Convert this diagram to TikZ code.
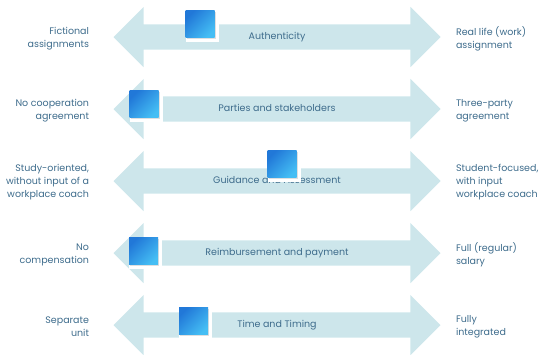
\documentclass[tikz,border=0pt]{standalone}
\usepackage{fontspec}
\setmainfont{Poppins}
\usetikzlibrary{shapes.arrows, shadows, positioning}
\definecolor{arrowfill}{HTML}{CDE6EB}
\definecolor{labeltext}{HTML}{3E6C8C}
\definecolor{notedark}{HTML}{2178D8}
\definecolor{notelight}{HTML}{45BEF4}

\begin{document}
\begin{tikzpicture}[x=1pt, y=-1pt, node distance=24pt, font=\fontsize{9.5}{13}\selectfont,
	span/.style={double arrow, fill=arrowfill, minimum height=327pt, minimum width=60pt, double arrow head extend=17.5pt, double arrow tip angle=90, text height=7pt, text depth=2pt, inner xsep=0pt, inner ysep=8pt, text=labeltext},
	pole/.style={inner sep=0pt, text=labeltext, yshift=-1.5pt},
	note/.style={minimum width=29pt, minimum height=27pt, inner sep=0pt, top color=notedark, bottom color=notelight, shading angle=45,
		general shadow={fill=white, shadow xshift=2pt, shadow yshift=-2pt, shadow scale=1.15},
		drop shadow={opacity=0.25, shadow xshift=1pt, shadow yshift=-1pt}}]
			\useasboundingbox (0,0) rectangle (543,354);
			
			\node[span] (a1) at (277,37) {Authenticity};
			\node[span] (a2) at (277,109) {Parties and stakeholders};
			\node[span] (a3) at (277,181) {Guidance and Assessment};
			\node[span] (a4) at (277,253) {Reimbursement and payment};
			\node[span] (a5) at (277,325) {Time and Timing};
			
			\node[pole, align=right] (l1) [left=of a1] {Fictional\\assignments};
			\node[pole, align=right] (l2) [left=of a2] {No cooperation\\agreement};
			\node[pole, align=right] (l3) [left=of a3] {Study-oriented,\\without input of a\\workplace coach};
			\node[pole, align=right] (l4) [left=of a4] {No\\compensation};
			\node[pole, align=right] (l5) [left=of a5] {Separate\\unit};
			
			\node[pole, align=left] (r1) [right=15pt of a1] {Real life (work)\\assignment};
			\node[pole, align=left] (r2) [right=15pt of a2] {Three-party\\agreement};
			\node[pole, align=left] (r3) [right=15pt of a3] {Student-focused,\\with input\\workplace coach};
			\node[pole, align=left] (r4) [right=15pt of a4] {Full (regular)\\salary};
			\node[pole, align=left] (r5) [right=15pt of a5] {Fully\\integrated};
			
			\node[note] (n1) at (200,24) {};
			\node[note] (n2) at (144,104) {};
			\node[note] (n3) at (282,164) {};
			\node[note] (n4) at (143.5,251) {};
			\node[note] (n5) at (193.5,321) {};
\end{tikzpicture}
\end{document}
